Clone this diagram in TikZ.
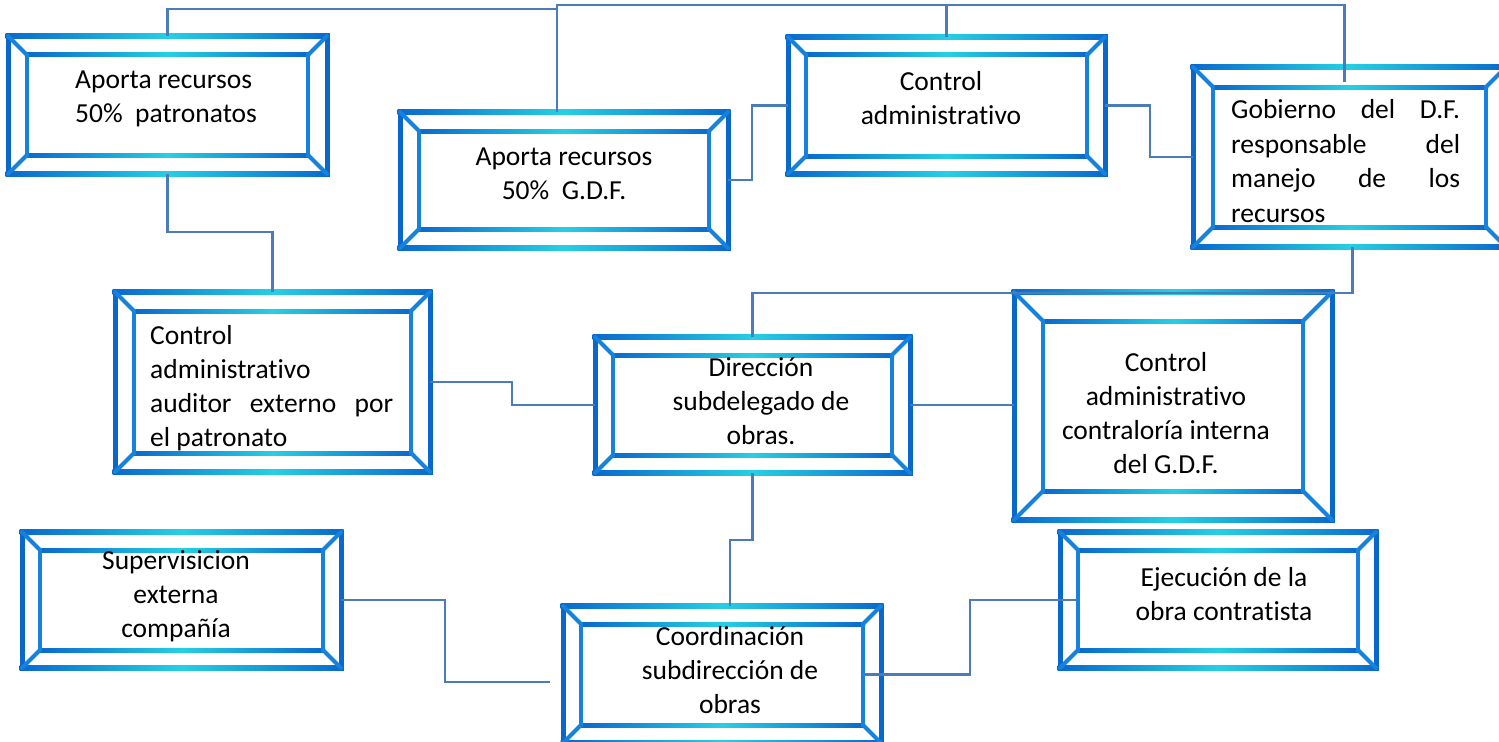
\documentclass[tikz,border=0pt]{standalone}
\usepackage{fontspec}
\setmainfont[Ligatures=NoCommon]{Carlito}
\usetikzlibrary{fit}
\definecolor{bdark}{HTML}{0A68CC}
\definecolor{bmid}{HTML}{1682DC}
\definecolor{bcyan}{HTML}{26CFE3}
\definecolor{clink}{HTML}{4A7CBA}
\tikzset{
  hshade/.style={left color=bdark,right color=bdark,middle color=bcyan},
  diag/.style={draw=bmid,line width=4bp,line cap=round},
  link/.style={draw=clink,line width=2.2bp},
  txt/.style={font=\fontsize{27.6}{34}\selectfont,inner sep=0pt,align=center,text=black},
}
\newcommand\bevbox[6]{%
  \node[fit={(#2,#3) (#4,#5)}, inner sep=0pt] (#1) {};
  \pgfmathsetmacro\bxa{#2+#6}\pgfmathsetmacro\bya{#3+#6}%
  \pgfmathsetmacro\bxb{#4-#6}\pgfmathsetmacro\byb{#5-#6}%
  \shade[hshade] (#2-2.5,#3-2.5) rectangle (#4+2.5,#3+2.5);
  \shade[hshade] (#2-2.5,#5-2.5) rectangle (#4+2.5,#5+2.5);
  \shade[hshade] (\bxa-2,\bya-2) rectangle (\bxb+2,\bya+2);
  \shade[hshade] (\bxa-2,\byb-2) rectangle (\bxb+2,\byb+2);
  \fill[bdark] (#2-2.5,#3-2.5) rectangle (#2+2.5,#5+2.5);
  \fill[bdark] (#4-2.5,#3-2.5) rectangle (#4+2.5,#5+2.5);
  \fill[bmid] (\bxa-2,\bya-2) rectangle (\bxa+2,\byb+2);
  \fill[bmid] (\bxb-2,\bya-2) rectangle (\bxb+2,\byb+2);
  \draw[diag] (#2,#3) -- (\bxa,\bya) (#4,#3) -- (\bxb,\bya)
              (#2,#5) -- (\bxa,\byb) (#4,#5) -- (\bxb,\byb);
}
\begin{document}
\begin{tikzpicture}[x=1bp,y=-1bp]
\useasboundingbox (0,0) rectangle (1499,742);
\clip (0,0) rectangle (1499,742);
\fill[white] (0,0) rectangle (1499,742);

\coordinate (hend) at (550,682);

\bevbox{A}{8}{36}{327}{174}{19}
\bevbox{B}{400}{112}{728}{248}{19}
\bevbox{C}{788}{37}{1105}{174}{18}
\bevbox{D}{1193}{67}{1506}{247}{20}
\bevbox{E}{115}{292}{430}{472}{19}
\bevbox{F}{595}{337}{910}{473}{18}
\bevbox{G}{1014}{292}{1332}{520}{29}
\bevbox{H}{22}{532}{341}{668}{18}
\bevbox{I}{563}{606}{881}{743}{18}
\bevbox{J}{1060}{532}{1376}{668}{18}

\draw[link] (A.north) -- ++(0,-27) -| ([xshift=-7bp]B.north);
\draw[link] ([xshift=-7bp]B.north) -- ++(0,-107) -| ([xshift=-5bp,yshift=-15bp]D.north);
\draw[link] (C.north) -- ++(0,-32);
\draw[link] (A.south) -- ++(0,58) -| (E.north);
\draw[link] (B.east) -- ++(24,0) |- (C.west);
\draw[link] (C.east) -- ++(45,0) |- (D.west);
\draw[link] ([xshift=3bp]D.south) -- ++(0,46) -| (F.north);
\draw[link] (E.east) -- ++(82,0) |- (F.west);
\draw[link] (F.east) -- (F.east -| G.west);
\draw[link] (F.south) -- ++(0,67) -| ([xshift=8bp]I.north);
\draw[link] (H.east) -- ++(104,0) |- (hend);
\draw[link] ([xshift=-18bp]I.east) -- ++(107,0) |- ([xshift=17bp]J.west);

\node[txt,anchor=west,align=left] (tA) at (75,99) {Aporta recursos\\50\%\ \ patronatos};
\node[txt] (tB) at (564,174) {Aporta recursos\\50\%\ \ G.D.F.};
\node[txt] (tC) at (941,98) {Control\\administrativo};
\node[txt,anchor=west,align=left,font=\fontsize{27.6}{35}\selectfont] (tD) at (1231,161)
  {\makebox[229bp][s]{Gobierno del D.F.}\\\makebox[229bp][s]{responsable del}\\\makebox[229bp][s]{manejo de los}\\recursos};
\node[txt,anchor=west,align=left] (tE) at (150,388)
  {Control\\administrativo\\\makebox[243bp][s]{auditor externo por}\\el patronato};
\node[txt] (tF) at (761,401) {Dirección\\subdelegado de\\obras.};
\node[txt] (tG) at (1166,413) {Control\\administrativo\\contraloría interna\\del G.D.F.};
\node[txt] (tH) at (176,596) {Supervisicion\\externa\\compañía};
\node[txt] (tI) at (730,670) {Coordinación\\subdirección de\\obras};
\node[txt] (tJ) at (1224,594) {Ejecución de la\\obra contratista};
\end{tikzpicture}
\end{document}
